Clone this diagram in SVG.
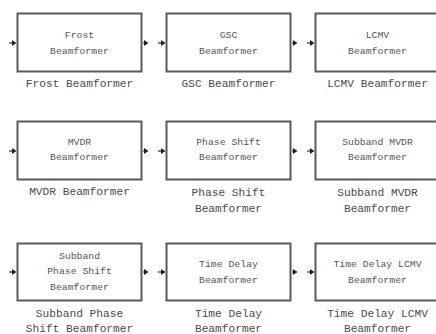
<svg xmlns="http://www.w3.org/2000/svg" width="436" height="334" viewBox="0 0 436 334">
<style>
.box{fill:#fff;stroke:#5a5a5a;stroke-width:2}
.in{font-family:"Liberation Mono","DejaVu Sans Mono",monospace;font-size:9.8px;fill:#555;text-anchor:middle}
.lb{font-family:"Liberation Mono","DejaVu Sans Mono",monospace;font-size:11.2px;fill:#4a4a4a;text-anchor:middle}
.port{stroke:#303030;stroke-width:1.2;fill:none}
.ah{fill:#202020}
</style>
<rect width="436" height="334" fill="#fff"/>
<g id="connectors">
<g id="ports-row1">
<line class="port" x1="9" y1="43" x2="13" y2="43"/><path class="ah" d="M12 40 L16.5 43 L12 46 Z"/>
<line class="port" x1="143" y1="43" x2="145" y2="43"/><path class="ah" d="M144 40 L148.5 43 L144 46 Z"/>
<line class="port" x1="158" y1="43" x2="162" y2="43"/><path class="ah" d="M161 40 L165.5 43 L161 46 Z"/>
<line class="port" x1="292" y1="43" x2="294" y2="43"/><path class="ah" d="M293 40 L297.5 43 L293 46 Z"/>
<line class="port" x1="307" y1="43" x2="311" y2="43"/><path class="ah" d="M310 40 L314.5 43 L310 46 Z"/>
</g>
<g id="ports-row2">
<line class="port" x1="9" y1="151" x2="13" y2="151"/><path class="ah" d="M12 148 L16.5 151 L12 154 Z"/>
<line class="port" x1="143" y1="151" x2="145" y2="151"/><path class="ah" d="M144 148 L148.5 151 L144 154 Z"/>
<line class="port" x1="158" y1="151" x2="162" y2="151"/><path class="ah" d="M161 148 L165.5 151 L161 154 Z"/>
<line class="port" x1="292" y1="151" x2="294" y2="151"/><path class="ah" d="M293 148 L297.5 151 L293 154 Z"/>
<line class="port" x1="307" y1="151" x2="311" y2="151"/><path class="ah" d="M310 148 L314.5 151 L310 154 Z"/>
</g>
<g id="ports-row3">
<line class="port" x1="9" y1="272" x2="13" y2="272"/><path class="ah" d="M12 269 L16.5 272 L12 275 Z"/>
<line class="port" x1="143" y1="272" x2="145" y2="272"/><path class="ah" d="M144 269 L148.5 272 L144 275 Z"/>
<line class="port" x1="158" y1="272" x2="162" y2="272"/><path class="ah" d="M161 269 L165.5 272 L161 275 Z"/>
<line class="port" x1="292" y1="272" x2="294" y2="272"/><path class="ah" d="M293 269 L297.5 272 L293 275 Z"/>
<line class="port" x1="307" y1="272" x2="311" y2="272"/><path class="ah" d="M310 269 L314.5 272 L310 275 Z"/>
</g>
</g>
<g id="frost">
<rect class="box" x="17.5" y="13.5" width="124" height="58"/>
<text class="in" x="79.5" y="37.5">Frost</text>
<text class="in" x="79.5" y="53.5">Beamformer</text>
<text class="lb" x="79.5" y="87">Frost Beamformer</text>
</g>
<g id="gsc">
<rect class="box" x="166.5" y="13.5" width="124" height="58"/>
<text class="in" x="228.5" y="37.5">GSC</text>
<text class="in" x="228.5" y="53.5">Beamformer</text>
<text class="lb" x="228.5" y="87">GSC Beamformer</text>
</g>
<g id="lcmv">
<rect class="box" x="315.5" y="13.5" width="124" height="58"/>
<text class="in" x="377.5" y="37.5">LCMV</text>
<text class="in" x="377.5" y="53.5">Beamformer</text>
<text class="lb" x="377.5" y="87">LCMV Beamformer</text>
</g>
<g id="mvdr">
<rect class="box" x="17.5" y="121.5" width="124" height="58"/>
<text class="in" x="79.5" y="145">MVDR</text>
<text class="in" x="79.5" y="160">Beamformer</text>
<text class="lb" x="79.5" y="195">MVDR Beamformer</text>
</g>
<g id="phaseshift">
<rect class="box" x="166.5" y="121.5" width="124" height="58"/>
<text class="in" x="228.5" y="145">Phase Shift</text>
<text class="in" x="228.5" y="160">Beamformer</text>
<text class="lb" x="228.5" y="195.5">Phase Shift</text>
<text class="lb" x="228.5" y="211.5">Beamformer</text>
</g>
<g id="subbandmvdr">
<rect class="box" x="315.5" y="121.5" width="124" height="58"/>
<text class="in" x="377.5" y="145">Subband MVDR</text>
<text class="in" x="377.5" y="160">Beamformer</text>
<text class="lb" x="377.5" y="195.5">Subband MVDR</text>
<text class="lb" x="377.5" y="211.5">Beamformer</text>
</g>
<g id="subbandphaseshift">
<rect class="box" x="17.5" y="243.5" width="124" height="57"/>
<text class="in" x="79.5" y="258.5">Subband</text>
<text class="in" x="79.5" y="274">Phase Shift</text>
<text class="in" x="79.5" y="289.5">Beamformer</text>
<text class="lb" x="79.5" y="317">Subband Phase</text>
<text class="lb" x="79.5" y="332">Shift Beamformer</text>
</g>
<g id="timedelay">
<rect class="box" x="166.5" y="243.5" width="124" height="57"/>
<text class="in" x="228.5" y="267">Time Delay</text>
<text class="in" x="228.5" y="282.5">Beamformer</text>
<text class="lb" x="228.5" y="317">Time Delay</text>
<text class="lb" x="228.5" y="332">Beamformer</text>
</g>
<g id="timedelaylcmv">
<rect class="box" x="315.5" y="243.5" width="124" height="57"/>
<text class="in" x="377.5" y="267">Time Delay LCMV</text>
<text class="in" x="377.5" y="282.5">Beamformer</text>
<text class="lb" x="377.5" y="317">Time Delay LCMV</text>
<text class="lb" x="377.5" y="332">Beamformer</text>
</g>
</svg>
